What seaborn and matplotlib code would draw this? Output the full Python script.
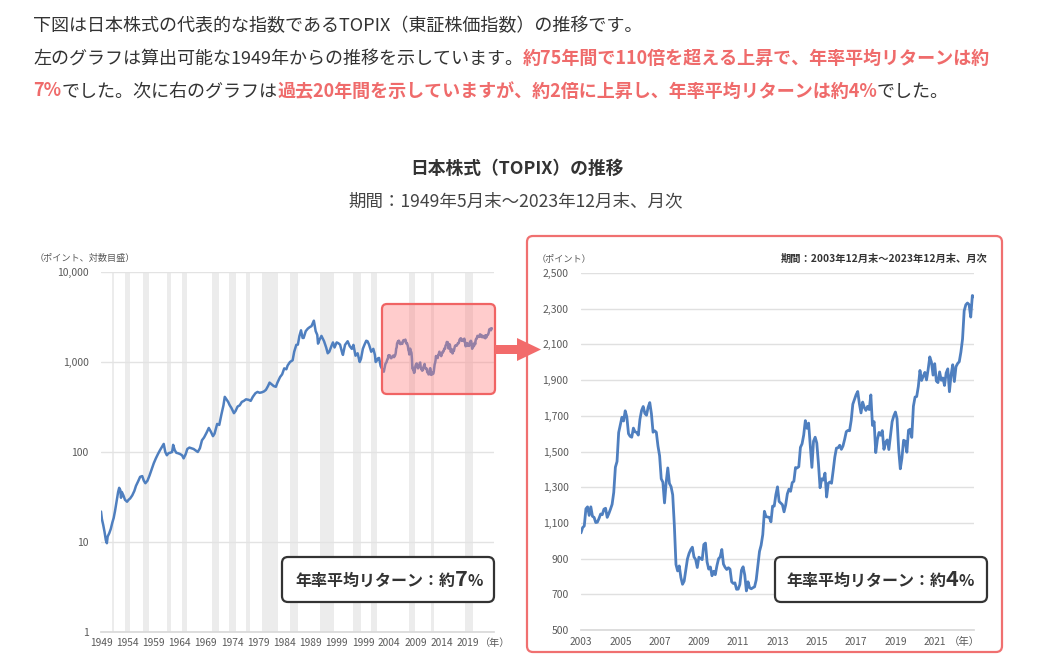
import numpy as np
import pandas as pd
import seaborn as sns
import matplotlib.pyplot as plt
from matplotlib.patches import FancyBboxPatch, Polygon
from matplotlib.transforms import IdentityTransform
from matplotlib.ticker import NullLocator

# --- data ---
# long history (1949/5 - 2003/11), fractional years
long_years = [
    1949.33, 1949.5, 1949.75, 1950.0, 1950.25, 1950.45, 1950.6, 1950.9, 1951.2, 1951.5,
    1951.75, 1952.0, 1952.3, 1952.6, 1952.8, 1953.0, 1953.15, 1953.3, 1953.6, 1953.9,
    1954.3, 1954.6, 1954.9, 1955.3, 1955.7, 1956.0, 1956.4, 1956.8, 1957.2, 1957.5,
    1957.8, 1958.2, 1958.6, 1959.0, 1959.4, 1959.8, 1960.2, 1960.6, 1961.0, 1961.3,
    1961.6, 1961.9, 1962.2, 1962.5, 1962.9, 1963.1, 1963.4, 1963.7, 1964.0, 1964.4,
    1964.8, 1965.1, 1965.5, 1965.8, 1966.2, 1966.6, 1967.0, 1967.4, 1967.8, 1968.2,
    1968.6, 1969.0, 1969.5, 1969.9, 1970.3, 1970.7, 1971.0, 1971.5, 1971.9, 1972.3,
    1972.7, 1972.95, 1973.2, 1973.6, 1973.9, 1974.2, 1974.7, 1975.0, 1975.4, 1975.8,
    1976.2, 1976.6, 1977.0, 1977.5, 1977.9, 1978.3, 1978.8, 1979.2, 1979.6, 1980.0,
    1980.4, 1980.8, 1981.2, 1981.5, 1981.9, 1982.3, 1982.7, 1983.0, 1983.5, 1983.9,
    1984.3, 1984.7, 1984.95, 1985.4, 1985.9, 1986.2, 1986.6, 1986.9, 1987.2, 1987.5,
    1987.8, 1988.0, 1988.4, 1988.8, 1989.2, 1989.5, 1989.95, 1990.3, 1990.6, 1990.75,
    1991.0, 1991.4, 1991.9, 1992.3, 1992.6, 1992.9, 1993.3, 1993.6, 1993.9, 1994.3,
    1994.6, 1994.95, 1995.3, 1995.5, 1995.9, 1996.4, 1996.8, 1997.2, 1997.5, 1997.9,
    1998.3, 1998.7, 1998.95, 1999.3, 1999.6, 1999.95, 2000.2, 2000.5, 2000.9, 2001.3,
    2001.6, 2001.75, 2001.95, 2002.2, 2002.4, 2002.7, 2002.95, 2003.2, 2003.3, 2003.6,
    2003.83,
]
long_values = [
    21.8, 18.0, 15.5, 13.0, 10.5, 9.7, 11.5, 12.5, 14.0, 16.5,
    18.5, 22.0, 28.0, 36.0, 40.0, 38.0, 31.0, 36.0, 33.0, 29.5,
    28.0, 29.5, 30.5, 33.0, 37.0, 42.0, 47.0, 53.0, 54.0, 48.0,
    45.0, 48.0, 55.0, 64.0, 75.0, 85.0, 95.0, 105.0, 115.0, 123.0,
    100.0, 92.0, 97.0, 98.0, 100.0, 120.0, 105.0, 98.0, 97.0, 95.0,
    92.0, 85.0, 95.0, 108.0, 112.0, 110.0, 108.0, 104.0, 100.0, 110.0,
    135.0, 145.0, 165.0, 185.0, 168.0, 150.0, 160.0, 205.0, 200.0, 260.0,
    330.0, 410.0, 390.0, 360.0, 330.0, 310.0, 270.0, 285.0, 320.0, 330.0,
    360.0, 370.0, 385.0, 380.0, 370.0, 410.0, 450.0, 465.0, 455.0, 460.0,
    470.0, 490.0, 540.0, 590.0, 565.0, 540.0, 530.0, 590.0, 680.0, 730.0,
    850.0, 830.0, 915.0, 1000.0, 1045.0, 1300.0, 1550.0, 1560.0, 1950.0, 2250.0,
    1850.0, 1850.0, 2200.0, 2350.0, 2450.0, 2500.0, 2880.0, 2200.0, 2000.0, 1600.0,
    1750.0, 1950.0, 1700.0, 1450.0, 1250.0, 1300.0, 1500.0, 1650.0, 1450.0, 1650.0,
    1620.0, 1560.0, 1300.0, 1200.0, 1550.0, 1700.0, 1500.0, 1400.0, 1550.0, 1175.0,
    1250.0, 1000.0, 1087.0, 1400.0, 1550.0, 1722.0, 1700.0, 1550.0, 1300.0, 1400.0,
    1200.0, 1000.0, 1032.0, 1100.0, 1110.0, 900.0, 843.0, 790.0, 780.0, 950.0,
    1000.0,
]

# last 20 years, month-end 2003/12 - 2023/12
recent_values = [
    1044,
    1074, 1083, 1179, 1190, 1142, 1190, 1137, 1131, 1102, 1104, 1125, 1150,
    1146, 1177, 1182, 1131, 1152, 1177, 1204, 1271, 1412, 1444, 1606, 1650,
    1692, 1671, 1728, 1693, 1600, 1585, 1580, 1631, 1610, 1607, 1592, 1681,
    1730, 1752, 1713, 1703, 1748, 1774, 1712, 1608, 1616, 1608, 1531, 1476,
    1347, 1328, 1212, 1326, 1408, 1321, 1303, 1257, 1087, 867, 831, 859,
    794, 756, 774, 837, 898, 929, 950, 964, 909, 895, 850, 908,
    901, 894, 979, 987, 881, 841, 853, 804, 829, 810, 860, 899,
    910, 951, 869, 851, 839, 849, 841, 770, 761, 764, 728, 729,
    755, 835, 854, 808, 719, 770, 736, 731, 737, 742, 781, 860,
    940, 975, 1034, 1165, 1135, 1133, 1131, 1106, 1194, 1194, 1258, 1302,
    1220, 1211, 1202, 1162, 1201, 1262, 1289, 1277, 1326, 1333, 1410, 1408,
    1415, 1523, 1543, 1592, 1673, 1630, 1659, 1537, 1411, 1558, 1580, 1547,
    1432, 1297, 1347, 1340, 1379, 1245, 1322, 1329, 1322, 1393, 1469, 1519,
    1521, 1535, 1512, 1531, 1568, 1611, 1618, 1616, 1674, 1765, 1792, 1818,
    1836, 1768, 1716, 1777, 1747, 1730, 1753, 1735, 1817, 1646, 1667, 1494,
    1567, 1607, 1591, 1617, 1512, 1551, 1565, 1511, 1587, 1667, 1699, 1721,
    1684, 1510, 1403, 1464, 1563, 1558, 1496, 1619, 1625, 1579, 1754, 1805,
    1808, 1864, 1954, 1898, 1922, 1943, 1901, 1960, 2030, 2001, 1928, 1992,
    1895, 1886, 1946, 1899, 1912, 1870, 1940, 1963, 1835, 1929, 1986, 1892,
    1975, 1993, 2003, 2057, 2130, 2288, 2322, 2332, 2323, 2253, 2374, 2366,
]

# grey bands (recession periods)
recessions = [
    (1951.42, 1951.83), (1954.0, 1954.83), (1957.42, 1958.42), (1961.92, 1962.75),
    (1964.75, 1965.75), (1970.5, 1971.92), (1973.83, 1975.17), (1977.0, 1977.75),
    (1980.08, 1983.08), (1985.42, 1986.83), (1991.08, 1993.75), (1997.33, 1999.0),
    (2000.83, 2002.0), (2008.08, 2009.17), (2012.25, 2012.83), (2018.75, 2020.33),
]

left_xlabels = ["1949", "1954", "1959", "1964", "1969", "1974", "1979", "1984",
                "1989", "1999", "1999", "2004", "2009", "2014", "2019"]
left_yticks = [1, 10, 100, 1000, 10000]
right_xlabels = ["2003", "2005", "2007", "2009", "2011", "2013", "2015", "2017", "2019", "2021"]
right_yticks = list(range(500, 2501, 200))

BLUE = "#4f7fbf"
TXT = "#333333"
RED = "#ef6b6b"
TICK = "#595959"

W, H = 1045, 663

sns.set_theme(style="white")
plt.rcParams['font.family'] = ['Noto Sans CJK JP', 'DejaVu Sans']

fig = plt.figure(figsize=(W / 100, H / 100), dpi=100)
fig.patch.set_facecolor("white")
renderer = fig.canvas.get_renderer()


def fx(x):
    return x / W


def fy(y):
    return 1 - y / H


def draw_runs(runs, x, y, size, align="left"):
    # runs: (text, color, weight[, size]) drawn one after another on one baseline
    texts, widths = [], []
    for r in runs:
        s, color, weight = r[:3]
        sz = r[3] if len(r) > 3 else size
        t = fig.text(0, fy(y), s, color=color, fontweight=weight, fontsize=sz,
                     va="baseline", ha="left", zorder=8)
        widths.append(t.get_window_extent(renderer).width)
        texts.append(t)
    total = sum(widths)
    if align == "center":
        x -= total / 2
    elif align == "right":
        x -= total
    for t, w in zip(texts, widths):
        t.set_x(fx(x))
        x += w


def px_box(x0, y0, x1, y1, **kw):
    p = FancyBboxPatch((x0, H - y1), x1 - x0, y1 - y0, transform=IdentityTransform(), **kw)
    fig.add_artist(p)
    return p


# paragraph
PS = 13.0
draw_runs([("下図は日本株式の代表的な指数であるTOPIX（東証株価指数）の推移です。", TXT, "normal")], 33, 31, PS)
draw_runs([("左のグラフは算出可能な1949年からの推移を示しています。", TXT, "normal"),
           ("約75年間で110倍を超える上昇で、年率平均リターンは約", RED, "bold")], 33, 64, PS)
draw_runs([("7%", RED, "bold"), ("でした。次に右のグラフは", TXT, "normal"),
           ("過去20年間を示していますが、約2倍に上昇し、年率平均リターンは約4%", RED, "bold"),
           ("でした。", TXT, "normal")], 33, 96.5, PS)

# titles
draw_runs([("日本株式（TOPIX）の推移", TXT, "bold")], 517, 174, 12.8, align="center")
draw_runs([("期間：1949年5月末～2023年12月末、月次", "#444444", "normal")], 516, 206, 12.6, align="center")

# ---------------- left chart ----------------
ax1 = fig.add_axes([fx(101), fy(632), (494 - 101) / W, (632 - 272) / H])
for s, e in recessions:
    ax1.axvspan(s, e, color="#ececec", lw=0, zorder=0)

long_x = long_years + [2003 + 11 / 12 + i / 12 for i in range(len(recent_values))]
long_y = long_values + recent_values
df_long = pd.DataFrame({"year": long_x, "topix": long_y})
sns.lineplot(data=df_long, x="year", y="topix", ax=ax1, color=BLUE, linewidth=1.8,
             estimator=None, zorder=3)

ax1.set_yscale("log")
ax1.set_ylim(1, 10000)
ax1.set_yticks(left_yticks)
ax1.set_yticklabels([f"{v:,}" for v in left_yticks])
ax1.yaxis.set_minor_locator(NullLocator())
ax1.set_xlim(1949.33, 2024.33)
ax1.set_xticks([1949.33 + 5 * k for k in range(len(left_xlabels))])
ax1.set_xticklabels(left_xlabels)
ax1.yaxis.grid(True, color="#e3e3e3", lw=1)
ax1.xaxis.grid(False)
for side in ["left", "right", "top"]:
    ax1.spines[side].set_visible(False)
ax1.spines["bottom"].set_color("#d9d9d9")
ax1.tick_params(axis="y", length=0, labelsize=7.5, labelcolor=TICK, pad=9)
ax1.tick_params(axis="x", length=0, labelsize=7.3, labelcolor=TICK, pad=4)
ax1.set_xlabel("")
ax1.set_ylabel("")
ax1.set_facecolor("none")

fig.text(fx(35), fy(261), "（ポイント、対数目盛）", fontsize=6.6, color=TICK, va="baseline")
fig.text(fx(480), fy(643), "（年）", fontsize=7.3, color=TICK, va="center", ha="left")

# pink highlight over last 20 years
px_box(382, 304, 495, 394, boxstyle="round,pad=0,rounding_size=5",
       facecolor=(1, 0.5, 0.5, 0.4), edgecolor="#f06464", lw=1.6, zorder=5)

# arrow
arrow = Polygon([(495, H - 345), (517, H - 345), (517, H - 338), (541, H - 349.5),
                 (517, H - 361), (517, H - 354), (495, H - 354)],
                closed=True, transform=IdentityTransform(), facecolor="#f26b6b",
                edgecolor="none", zorder=5)
fig.add_artist(arrow)

# left return box
px_box(282, 557, 494, 602, boxstyle="round,pad=0,rounding_size=6",
       facecolor="white", edgecolor="#333333", lw=1.6, zorder=6)
draw_runs([("年率平均リターン：約", TXT, "bold", 11.5), ("7", TXT, "bold", 15.5), ("%", TXT, "bold", 11.5)],
          389, 586, 11.5, align="center")

# ---------------- right chart ----------------
px_box(527, 236, 1002, 652, boxstyle="round,pad=0,rounding_size=6",
       facecolor="none", edgecolor="#f07070", lw=1.6, zorder=4)

ax2 = fig.add_axes([fx(581), fy(630), (974 - 581) / W, (630 - 273) / H])
df_recent = pd.DataFrame({"month": np.arange(len(recent_values)), "topix": recent_values})
sns.lineplot(data=df_recent, x="month", y="topix", ax=ax2, color=BLUE, linewidth=2.0,
             estimator=None, zorder=3)
ax2.set_ylim(500, 2500)
ax2.set_yticks(right_yticks)
ax2.set_yticklabels([f"{v:,}" for v in right_yticks])
ax2.set_xlim(0, 240)
ax2.set_xticks([24 * k for k in range(len(right_xlabels))])
ax2.set_xticklabels(right_xlabels)
ax2.yaxis.grid(True, color="#e0e0e0", lw=1)
ax2.xaxis.grid(False)
for side in ["left", "right", "top"]:
    ax2.spines[side].set_visible(False)
ax2.spines["bottom"].set_color("#d9d9d9")
ax2.tick_params(axis="y", length=0, labelsize=7.5, labelcolor=TICK, pad=9)
ax2.tick_params(axis="x", length=0, labelsize=7.3, labelcolor=TICK, pad=5)
ax2.set_xlabel("")
ax2.set_ylabel("")
ax2.set_facecolor("none")

fig.text(fx(537), fy(261), "（ポイント）", fontsize=6.6, color=TICK, va="baseline")
fig.text(fx(964), fy(642), "（年）", fontsize=7.5, color=TICK, va="center", ha="center")
draw_runs([("期間：2003年12月末～2023年12月末、月次", TXT, "bold")], 988, 262, 7.4, align="right")

# right return box
px_box(775, 557, 987, 602, boxstyle="round,pad=0,rounding_size=6",
       facecolor="white", edgecolor="#333333", lw=1.6, zorder=6)
draw_runs([("年率平均リターン：約", TXT, "bold", 11.5), ("4", TXT, "bold", 15.5), ("%", TXT, "bold", 11.5)],
          880, 586, 11.5, align="center")

fig.savefig("out.png", dpi=100)
